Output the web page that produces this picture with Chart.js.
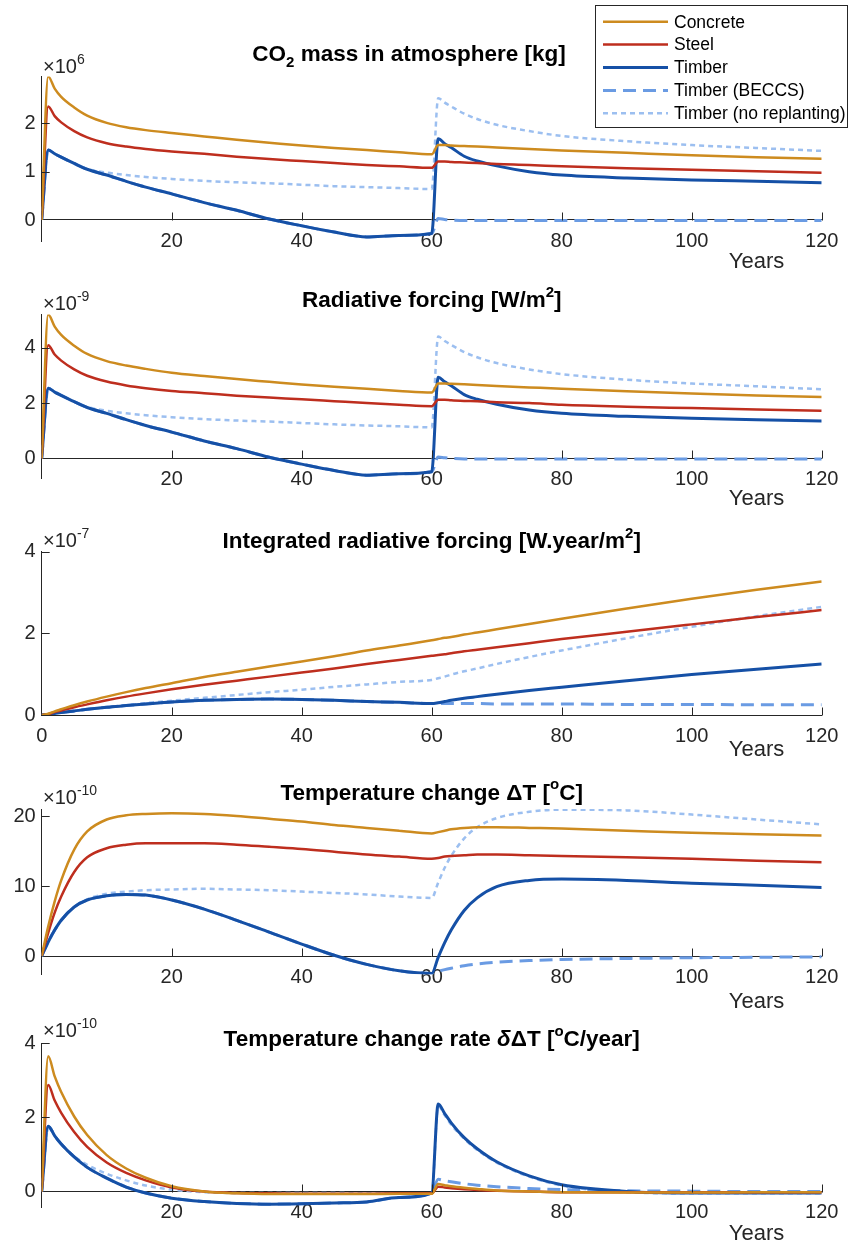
<!DOCTYPE html>
<html>
<head>
<meta charset="utf-8">
<script src="https://cdn.jsdelivr.net/npm/chart.js@4.4.1/dist/chart.umd.min.js"></script>
<style>
  html, body { margin: 0; background: #fff; }
  #wrap { position: relative; width: 849px; height: 1245px; }
  canvas { position: absolute; left: 0; top: 0; }
</style>
</head>
<body>
<div id="wrap">
  <canvas id="c1" width="849" height="1245"></canvas>
  <canvas id="c2" width="849" height="1245"></canvas>
  <canvas id="c3" width="849" height="1245"></canvas>
  <canvas id="c4" width="849" height="1245"></canvas>
  <canvas id="c5" width="849" height="1245"></canvas>
</div>
<script>
// years sampled for every series
const years = [0, 1, 2, 3, 5, 7, 10, 13, 16, 20, 25, 30, 35, 40, 45, 50, 55, 60,
  61, 62, 63, 65, 67, 70, 75, 80, 90, 100, 110, 120];

const seriesNames = ['Concrete', 'Steel', 'Timber', 'Timber (BECCS)', 'Timber (no replanting)'];

// CO2 mass in atmosphere (x1e6 kg)
const massConcrete = [0, 2.97, 2.72, 2.55, 2.33, 2.16, 2.01, 1.92, 1.86, 1.80, 1.73, 1.66, 1.60, 1.54, 1.49, 1.45, 1.40, 1.36, 1.55, 1.55, 1.54, 1.53, 1.52, 1.50, 1.47, 1.44, 1.39, 1.34, 1.30, 1.27];
const massSteel = [0, 2.35, 2.15, 2.02, 1.84, 1.71, 1.59, 1.52, 1.47, 1.42, 1.37, 1.31, 1.26, 1.22, 1.18, 1.14, 1.11, 1.08, 1.21, 1.21, 1.20, 1.19, 1.18, 1.16, 1.14, 1.11, 1.07, 1.04, 1.01, 0.98];
const massTimber = [0, 1.45, 1.37, 1.30, 1.17, 1.05, 0.93, 0.80, 0.68, 0.54, 0.36, 0.20, 0.02, -0.12, -0.25, -0.35, -0.32, -0.28, 1.68, 1.58, 1.50, 1.32, 1.22, 1.12, 1.00, 0.93, 0.87, 0.83, 0.80, 0.77];
const massBeccs = [0, 1.45, 1.37, 1.30, 1.17, 1.05, 0.93, 0.80, 0.68, 0.54, 0.36, 0.20, 0.02, -0.12, -0.25, -0.35, -0.32, -0.28, 0.03, 0.01, 0.0, -0.01, -0.01, -0.01, -0.01, -0.01, -0.01, -0.01, -0.01, -0.01];
const massNoReplant = [0, 1.45, 1.37, 1.30, 1.17, 1.06, 0.98, 0.93, 0.89, 0.85, 0.81, 0.78, 0.76, 0.73, 0.70, 0.68, 0.66, 0.64, 2.52, 2.43, 2.35, 2.20, 2.09, 1.97, 1.84, 1.74, 1.63, 1.55, 1.49, 1.43];

// Radiative forcing (x1e-9 W/m2)
const rfConcrete = [0, 5.21, 4.77, 4.47, 4.08, 3.78, 3.52, 3.36, 3.24, 3.10, 2.98, 2.87, 2.77, 2.67, 2.59, 2.52, 2.44, 2.38, 2.71, 2.71, 2.70, 2.68, 2.66, 2.62, 2.57, 2.52, 2.43, 2.35, 2.28, 2.22];
const rfSteel = [0, 4.10, 3.76, 3.54, 3.22, 2.99, 2.78, 2.64, 2.54, 2.44, 2.36, 2.27, 2.20, 2.14, 2.07, 2.00, 1.94, 1.89, 2.12, 2.12, 2.10, 2.08, 2.07, 2.03, 2.00, 1.94, 1.87, 1.82, 1.77, 1.72];
const rfTimber = [0, 2.54, 2.40, 2.28, 2.05, 1.84, 1.63, 1.40, 1.19, 0.95, 0.63, 0.35, 0.04, -0.21, -0.44, -0.61, -0.56, -0.49, 2.94, 2.77, 2.63, 2.31, 2.14, 1.96, 1.75, 1.63, 1.52, 1.45, 1.40, 1.35];
const rfBeccs = [0, 2.54, 2.40, 2.28, 2.05, 1.84, 1.63, 1.40, 1.19, 0.95, 0.63, 0.35, 0.04, -0.21, -0.44, -0.61, -0.56, -0.49, 0.05, 0.02, 0.0, -0.02, -0.02, -0.02, -0.02, -0.02, -0.02, -0.02, -0.02, -0.02];
const rfNoReplant = [0, 2.54, 2.40, 2.28, 2.05, 1.86, 1.72, 1.63, 1.56, 1.49, 1.42, 1.37, 1.33, 1.28, 1.23, 1.19, 1.16, 1.12, 4.41, 4.25, 4.11, 3.85, 3.66, 3.45, 3.22, 3.05, 2.85, 2.71, 2.61, 2.50];

// Integrated radiative forcing (x1e-7 W.year/m2)
const irfConcrete = [0, 0.03, 0.09, 0.14, 0.24, 0.33, 0.45, 0.56, 0.66, 0.78, 0.93, 1.06, 1.19, 1.31, 1.44, 1.58, 1.70, 1.83, 1.86, 1.89, 1.91, 1.97, 2.02, 2.10, 2.23, 2.36, 2.61, 2.85, 3.07, 3.27];
const irfSteel = [0, 0.02, 0.07, 0.11, 0.19, 0.26, 0.36, 0.45, 0.53, 0.63, 0.74, 0.84, 0.94, 1.04, 1.14, 1.25, 1.35, 1.45, 1.47, 1.49, 1.51, 1.56, 1.60, 1.66, 1.76, 1.86, 2.04, 2.22, 2.40, 2.57];
const irfTimber = [0, 0.013, 0.037, 0.06, 0.10, 0.14, 0.19, 0.23, 0.27, 0.32, 0.36, 0.38, 0.39, 0.38, 0.36, 0.33, 0.31, 0.28, 0.30, 0.33, 0.36, 0.41, 0.45, 0.51, 0.60, 0.68, 0.84, 0.99, 1.12, 1.25];
const irfBeccs = [0, 0.013, 0.037, 0.06, 0.10, 0.14, 0.19, 0.23, 0.27, 0.32, 0.36, 0.38, 0.39, 0.38, 0.36, 0.33, 0.31, 0.28, 0.28, 0.28, 0.28, 0.28, 0.28, 0.27, 0.27, 0.27, 0.26, 0.26, 0.25, 0.25];
const irfNoReplant = [0, 0.013, 0.037, 0.06, 0.10, 0.14, 0.19, 0.24, 0.29, 0.35, 0.42, 0.49, 0.56, 0.62, 0.69, 0.75, 0.81, 0.86, 0.90, 0.94, 0.99, 1.07, 1.14, 1.25, 1.42, 1.58, 1.88, 2.16, 2.42, 2.65];

// Temperature change (x1e-10 C)
const dtConcrete = [0, 4.2, 7.8, 10.8, 15.2, 17.8, 19.5, 20.1, 20.3, 20.4, 20.3, 20.0, 19.6, 19.2, 18.7, 18.3, 17.9, 17.5, 17.7, 17.9, 18.1, 18.3, 18.4, 18.4, 18.3, 18.2, 17.9, 17.6, 17.4, 17.2];
const dtSteel = [0, 3.3, 6.2, 8.5, 12.0, 14.1, 15.4, 15.9, 16.1, 16.1, 16.1, 15.9, 15.6, 15.3, 14.9, 14.5, 14.2, 13.9, 14.0, 14.2, 14.3, 14.4, 14.5, 14.5, 14.4, 14.3, 14.1, 13.9, 13.6, 13.4];
const dtTimber = [0, 2.0, 3.7, 5.1, 7.0, 8.0, 8.6, 8.8, 8.7, 8.0, 6.7, 5.1, 3.4, 1.7, 0.1, -1.2, -2.1, -2.5, -0.2, 1.9, 3.7, 6.5, 8.3, 9.9, 10.8, 11.0, 10.8, 10.4, 10.1, 9.8];
const dtBeccs = [0, 2.0, 3.7, 5.1, 7.0, 8.0, 8.6, 8.8, 8.7, 8.0, 6.7, 5.1, 3.4, 1.7, 0.1, -1.2, -2.1, -2.5, -2.2, -1.95, -1.75, -1.4, -1.15, -0.9, -0.65, -0.5, -0.35, -0.25, -0.18, -0.12];
const dtNoReplant = [0, 2.0, 3.7, 5.1, 7.0, 8.1, 8.9, 9.2, 9.4, 9.5, 9.6, 9.5, 9.4, 9.2, 9.0, 8.8, 8.5, 8.3, 10.5, 12.6, 14.3, 16.8, 18.4, 19.7, 20.6, 20.9, 20.8, 20.2, 19.5, 18.8];

// Temperature change rate (x1e-10 C/year)
const rateConcrete = [0, 3.64, 3.10, 2.68, 2.02, 1.52, 0.98, 0.62, 0.37, 0.14, 0.0, -0.05, -0.07, -0.07, -0.07, -0.07, -0.06, -0.06, 0.20, 0.17, 0.14, 0.10, 0.07, 0.03, 0.0, -0.02, -0.03, -0.03, -0.02, -0.02];
const rateSteel = [0, 2.87, 2.45, 2.12, 1.60, 1.20, 0.78, 0.50, 0.30, 0.11, 0.0, -0.04, -0.05, -0.06, -0.06, -0.06, -0.05, -0.05, 0.13, 0.11, 0.09, 0.06, 0.04, 0.02, 0.0, -0.02, -0.02, -0.02, -0.02, -0.02];
const rateTimber = [0, 1.76, 1.50, 1.28, 0.93, 0.65, 0.36, 0.12, -0.04, -0.18, -0.27, -0.32, -0.34, -0.33, -0.31, -0.28, -0.16, -0.04, 2.36, 2.10, 1.85, 1.45, 1.15, 0.80, 0.42, 0.18, 0.0, -0.04, -0.04, -0.04];
const rateBeccs = [0, 1.76, 1.50, 1.28, 0.93, 0.65, 0.36, 0.12, -0.04, -0.18, -0.27, -0.32, -0.34, -0.33, -0.31, -0.28, -0.16, -0.04, 0.33, 0.29, 0.26, 0.21, 0.17, 0.13, 0.08, 0.05, 0.02, 0.01, 0.0, 0.0];
const rateNoReplant = [0, 1.76, 1.50, 1.28, 0.95, 0.72, 0.48, 0.30, 0.16, 0.05, -0.02, -0.04, -0.04, -0.04, -0.04, -0.05, -0.05, -0.05, 2.30, 2.05, 1.80, 1.42, 1.12, 0.78, 0.40, 0.16, -0.02, -0.05, -0.05, -0.05];

// tick values
const xTicksOrigin = [20, 40, 60, 80, 100, 120];
const xTicksFull = [0, 20, 40, 60, 80, 100, 120];
const yTicksMass = [0, 1, 2];
const yTicksRf = [0, 2, 4];
const yTicksIrf = [0, 2, 4];
const yTicksDt = [0, 10, 20];
const yTicksRate = [0, 2, 4];

// styles
const FONT = '"Liberation Sans", Arial, Helvetica, sans-serif';
const AXIS = '#262626';
const seriesColors = ['#CD8B1F', '#BE2E1E', '#1550A6', '#6A9BE3', '#9CBFF0'];
const seriesWidths = [2.5, 2.5, 3, 3, 2.5];
const seriesDash = [[], [], [], [13, 7], [5, 4]];

const PLOT_LEFT = 41.7;
const PLOT_RIGHT = 821.7;

const panels = [
  { id: 'c1', series: [massConcrete, massSteel, massTimber, massBeccs, massNoReplant],
    ymin: -0.435, ymax: 2.97, top: 76.5, bottom: 241, xTicks: xTicksOrigin, yTicks: yTicksMass,
    title: [['CO', ''], ['2', 'sub'], [' mass in atmosphere [kg]', '']], titleX: 409, titleY: 60.5,
    exp: '6', expY: 73, yearsY: 268 },
  { id: 'c2', series: [rfConcrete, rfSteel, rfTimber, rfBeccs, rfNoReplant],
    ymin: -0.72, ymax: 5.21, top: 314.5, bottom: 478.2, xTicks: xTicksOrigin, yTicks: yTicksRf,
    title: [['Radiative forcing [W/m', ''], ['2', 'sup'], [']', '']], titleX: 431.7, titleY: 307.3,
    exp: '-9', expY: 310.3, yearsY: 505 },
  { id: 'c3', series: [irfConcrete, irfSteel, irfTimber, irfBeccs, irfNoReplant],
    ymin: 0, ymax: 4, top: 551.7, bottom: 715, xTicks: xTicksFull, yTicks: yTicksIrf,
    title: [['Integrated radiative forcing [W.year/m', ''], ['2', 'sup'], [']', '']], titleX: 431.7, titleY: 548,
    exp: '-7', expY: 547, yearsY: 756 },
  { id: 'c4', series: [dtConcrete, dtSteel, dtTimber, dtBeccs, dtNoReplant],
    ymin: -2.6, ymax: 21, top: 809, bottom: 974.2, xTicks: xTicksOrigin, yTicks: yTicksDt,
    title: [['Temperature change \u0394T [', ''], ['o', 'sup'], ['C]', '']], titleX: 431.7, titleY: 799.6,
    exp: '-10', expY: 803.7, yearsY: 1008 },
  { id: 'c5', series: [rateConcrete, rateSteel, rateTimber, rateBeccs, rateNoReplant],
    ymin: -0.42, ymax: 4, top: 1043, bottom: 1207.1, xTicks: xTicksOrigin, yTicks: yTicksRate,
    title: [['Temperature change rate ', ''], ['\u03b4', 'it'], ['\u0394T [', ''], ['o', 'sup'], ['C/year]', '']], titleX: 431.7, titleY: 1046,
    exp: '-10', expY: 1037, yearsY: 1240 }
];

// draw a string made of plain / sub / sup / italic pieces
function drawRich(ctx, parts, x, y, size, weight, align) {
  const fontFor = mode => {
    const small = mode === 'sub' || mode === 'sup';
    return (mode === 'it' ? 'italic ' : '') + weight + ' ' + (small ? Math.round(size * 0.68) : size) + 'px ' + FONT;
  };
  let w = 0;
  parts.forEach(([t, m]) => { ctx.font = fontFor(m); w += ctx.measureText(t).width; });
  let cx = align === 'center' ? x - w / 2 : x;
  ctx.textAlign = 'left';
  ctx.textBaseline = 'alphabetic';
  parts.forEach(([t, m]) => {
    ctx.font = fontFor(m);
    const dy = m === 'sub' ? size * 0.28 : (m === 'sup' ? -size * 0.45 : 0);
    ctx.fillText(t, cx, y + dy);
    cx += ctx.measureText(t).width;
  });
}

// inward ticks, title, exponent and "Years" like the matlab axes
function decor(p) {
  return {
    id: 'decor_' + p.id,
    afterDraw(chart) {
      const { ctx, chartArea } = chart;
      const xs = chart.scales.x, ys = chart.scales.y;
      const y0 = Math.round(ys.getPixelForValue(0)) + 0.5;
      ctx.save();
      ctx.strokeStyle = AXIS;
      ctx.lineWidth = 1;
      ctx.beginPath();
      p.xTicks.forEach(v => {
        if (v === 0) return;
        const px = Math.round(xs.getPixelForValue(v)) + 0.5;
        ctx.moveTo(px, y0);
        ctx.lineTo(px, y0 - 8);
      });
      p.yTicks.forEach(v => {
        if (v === 0) return;
        const py = Math.round(ys.getPixelForValue(v)) + 0.5;
        ctx.moveTo(chartArea.left, py);
        ctx.lineTo(chartArea.left + 8, py);
      });
      ctx.stroke();

      ctx.fillStyle = '#000';
      drawRich(ctx, p.title, p.titleX, p.titleY, 22.5, 'bold', 'center');
      ctx.fillStyle = AXIS;
      drawRich(ctx, [['\u00d710', ''], [p.exp, 'sup']], 43, p.expY, 20, 'normal', 'left');
      drawRich(ctx, [['Years', '']], 756.5, p.yearsY, 22, 'normal', 'center');
      ctx.restore();
    }
  };
}

// legend box in the top right corner, styles read from the datasets
const legendBox = {
  id: 'legendBox',
  afterDraw(chart) {
    const ctx = chart.ctx;
    ctx.save();
    ctx.fillStyle = '#fff';
    ctx.fillRect(595.5, 5.5, 252, 122);
    ctx.strokeStyle = AXIS;
    ctx.lineWidth = 1;
    ctx.strokeRect(595.5, 5.5, 252, 122);
    chart.data.datasets.forEach((ds, k) => {
      const yy = 21.7 + k * 22.9;
      ctx.strokeStyle = ds.borderColor;
      ctx.lineWidth = ds.borderWidth;
      ctx.setLineDash(ds.borderDash);
      ctx.beginPath();
      ctx.moveTo(603, yy);
      ctx.lineTo(668, yy);
      ctx.stroke();
      ctx.setLineDash([]);
      ctx.fillStyle = '#000';
      ctx.font = '17.5px ' + FONT;
      ctx.textAlign = 'left';
      ctx.textBaseline = 'middle';
      ctx.fillText(ds.label, 674, yy + 1);
    });
    ctx.restore();
  }
};

function makeChart(p, i) {
  const datasets = p.series.map((vals, k) => ({
    label: seriesNames[k],
    data: vals.map((v, j) => ({ x: years[j], y: v })),
    borderColor: seriesColors[k],
    borderWidth: seriesWidths[k],
    borderDash: seriesDash[k],
    borderJoinStyle: 'round',
    cubicInterpolationMode: 'monotone',
    pointRadius: 0,
    fill: false
  }));

  const tickFont = { family: FONT, size: 20 };

  return new Chart(document.getElementById(p.id), {
    type: 'line',
    data: { datasets },
    options: {
      responsive: false,
      animation: false,
      events: [],
      layout: { padding: { left: 0, right: 849 - PLOT_RIGHT, top: p.top, bottom: 1245 - p.bottom } },
      scales: {
        x: {
          type: 'linear',
          min: 0,
          max: 120,
          position: { y: 0 },
          afterBuildTicks: s => { s.ticks = p.xTicks.map(v => ({ value: v })); },
          grid: { display: false, drawTicks: false },
          border: { color: AXIS, width: 1 },
          ticks: { color: AXIS, font: tickFont, padding: 9, maxRotation: 0, autoSkip: false, callback: v => String(v) }
        },
        y: {
          type: 'linear',
          min: p.ymin,
          max: p.ymax,
          afterBuildTicks: s => { s.ticks = p.yTicks.map(v => ({ value: v })); },
          afterFit: s => { s.width = PLOT_LEFT; },
          grid: { display: false, drawTicks: false },
          border: { color: AXIS, width: 1 },
          ticks: { color: AXIS, font: tickFont, padding: 6, autoSkip: false, callback: v => String(v) }
        }
      },
      plugins: {
        legend: { display: false },
        tooltip: { enabled: false },
        title: { display: false }
      }
    },
    plugins: i === 0 ? [decor(p), legendBox] : [decor(p)]
  });
}

panels.forEach((p, i) => makeChart(p, i));
</script>
</body>
</html>
